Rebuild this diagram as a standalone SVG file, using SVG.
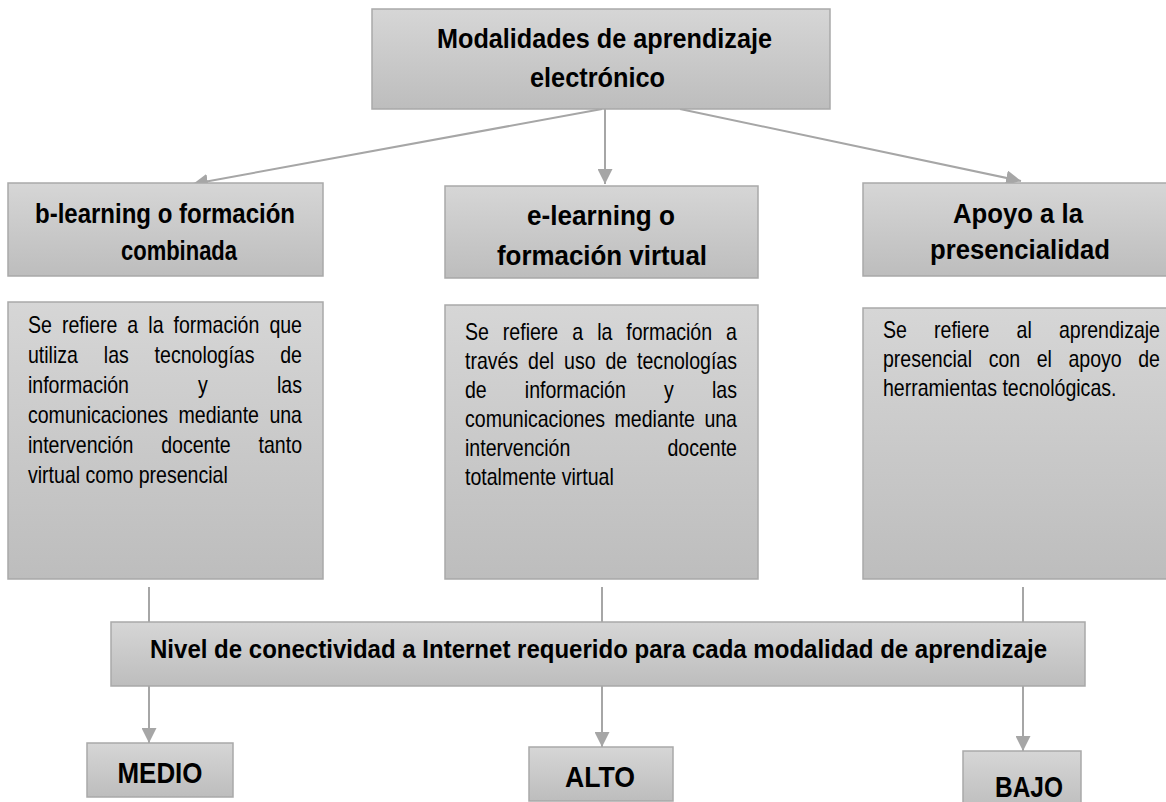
<svg xmlns="http://www.w3.org/2000/svg" width="1166" height="802" viewBox="0 0 1166 802">
<defs>
<linearGradient id="g" x1="0" y1="0" x2="0" y2="1">
<stop offset="0" stop-color="#d6d6d6"/>
<stop offset="1" stop-color="#bdbdbd"/>
</linearGradient>
<marker id="ah" markerUnits="userSpaceOnUse" viewBox="0 0 15 15" refX="15" refY="7.5" markerWidth="15" markerHeight="15" orient="auto">
<path d="M0,0 L15,7.5 L0,15 z" fill="#a6a6a6"/>
</marker>
<style>
.box{fill:url(#g);stroke:#a9a9a9;stroke-width:1.5}
.h{font-family:"Liberation Sans",Arial,sans-serif;font-weight:bold;fill:#000}
.d{font-family:"Liberation Sans",Arial,sans-serif;font-size:23px;fill:#000}
.c{stroke:#a6a6a6;stroke-width:2;fill:none}
.m{text-anchor:middle}
.e{text-anchor:end}
.s{text-anchor:start}
</style>
</defs>

<g id="connectors">
<line class="c" x1="602" y1="109" x2="193" y2="184" marker-end="url(#ah)"/>
<line class="c" x1="605" y1="109" x2="605" y2="184" marker-end="url(#ah)"/>
<line class="c" x1="680" y1="109" x2="1021" y2="181" marker-end="url(#ah)"/>
<line class="c" x1="149" y1="587" x2="149" y2="622"/>
<line class="c" x1="602" y1="587" x2="602" y2="622"/>
<line class="c" x1="1023" y1="587" x2="1023" y2="622"/>
<line class="c" x1="149" y1="686" x2="149" y2="743" marker-end="url(#ah)"/>
<line class="c" x1="602" y1="686" x2="602" y2="747" marker-end="url(#ah)"/>
<line class="c" x1="1023" y1="686" x2="1023" y2="751" marker-end="url(#ah)"/>
</g>

<g id="n-top">
<rect class="box" x="372" y="9" width="458" height="100"/>
<text class="h m" font-size="28" x="604.5" y="48" textLength="335" lengthAdjust="spacingAndGlyphs">Modalidades de aprendizaje</text>
<text class="h m" font-size="28" x="597.5" y="87" textLength="135" lengthAdjust="spacingAndGlyphs">electrónico</text>
</g>

<g id="n-blearning">
<rect class="box" x="8" y="183" width="315" height="93"/>
<text class="h m" font-size="28" x="165" y="223" textLength="260" lengthAdjust="spacingAndGlyphs">b-learning o formación</text>
<text class="h m" font-size="28" x="179" y="260" textLength="116" lengthAdjust="spacingAndGlyphs">combinada</text>
</g>

<g id="n-elearning">
<rect class="box" x="445" y="186" width="313" height="92"/>
<text class="h m" font-size="28" x="601" y="225" textLength="148" lengthAdjust="spacingAndGlyphs">e-learning o</text>
<text class="h m" font-size="28" x="602" y="265" textLength="210" lengthAdjust="spacingAndGlyphs">formación virtual</text>
</g>

<g id="n-apoyo">
<rect class="box" x="863" y="183" width="310" height="93"/>
<text class="h m" font-size="28" x="1018" y="223" textLength="130" lengthAdjust="spacingAndGlyphs">Apoyo a la</text>
<text class="h m" font-size="28" x="1020" y="259" textLength="180" lengthAdjust="spacingAndGlyphs">presencialidad</text>
</g>

<g id="n-desc1">
<rect class="box" x="8" y="302" width="315" height="277"/>
<g transform="scale(0.85 1)">
<text class="d" y="333"><tspan x="32.94">Se</tspan> <tspan x="72.87">refiere</tspan> <tspan x="149.86">a</tspan> <tspan x="174.49">la</tspan> <tspan x="204.19">formación</tspan> <tspan class="e" x="355.29">que</tspan></text>
<text class="d" y="363"><tspan x="32.94">utiliza</tspan> <tspan x="122.12">las</tspan> <tspan x="181.88">tecnologías</tspan> <tspan class="e" x="355.29">de</tspan></text>
<text class="d" y="393"><tspan x="32.94">información</tspan> <tspan x="233.06">y</tspan> <tspan class="e" x="355.29">las</tspan></text>
<text class="d" y="423"><tspan x="32.94">comunicaciones</tspan> <tspan x="210.12">mediante</tspan> <tspan class="e" x="355.29">una</tspan></text>
<text class="d" y="453"><tspan x="32.94">intervención</tspan> <tspan x="189.65">docente</tspan> <tspan class="e" x="355.29">tanto</tspan></text>
<text class="d" x="32.94" y="483">virtual como presencial</text>
</g>
</g>

<g id="n-desc2">
<rect class="box" x="445" y="305" width="313" height="274"/>
<g transform="scale(0.85 1)">
<text class="d" y="340"><tspan x="547.06">Se</tspan> <tspan x="591.62">refiere</tspan> <tspan x="673.25">a</tspan> <tspan x="702.52">la</tspan> <tspan x="736.85">formación</tspan> <tspan class="e" x="867.06">a</tspan></text>
<text class="d" y="369"><tspan x="547.06">través</tspan> <tspan x="621.27">del</tspan> <tspan x="663.59">uso</tspan> <tspan x="712.27">de</tspan> <tspan class="e" x="867.06">tecnologías</tspan></text>
<text class="d" y="398"><tspan x="547.06">de</tspan> <tspan x="617.49">información</tspan> <tspan x="781.22">y</tspan> <tspan class="e" x="867.06">las</tspan></text>
<text class="d" y="427"><tspan x="547.06">comunicaciones</tspan> <tspan x="723.06">mediante</tspan> <tspan class="e" x="867.06">una</tspan></text>
<text class="d" y="456"><tspan x="547.06">intervención</tspan> <tspan class="e" x="867.06">docente</tspan></text>
<text class="d" x="547.06" y="485">totalmente virtual</text>
</g>
</g>

<g id="n-desc3">
<rect class="box" x="863" y="308" width="310" height="271"/>
<g transform="scale(0.85 1)">
<text class="d" y="338"><tspan x="1038.82">Se</tspan> <tspan x="1098.86">refiere</tspan> <tspan x="1195.95">al</tspan> <tspan class="e" x="1364.71">aprendizaje</tspan></text>
<text class="d" y="367"><tspan x="1038.82">presencial</tspan> <tspan x="1163.12">con</tspan> <tspan x="1219.65">el</tspan> <tspan x="1257.0">apoyo</tspan> <tspan class="e" x="1364.71">de</tspan></text>
<text class="d" x="1038.82" y="396">herramientas tecnológicas.</text>
</g>
</g>

<g id="n-nivel">
<rect class="box" x="111" y="622" width="974" height="64"/>
<text class="h" font-size="25" x="150" y="658" textLength="897" lengthAdjust="spacingAndGlyphs">Nivel de conectividad a Internet requerido para cada modalidad de aprendizaje</text>
</g>

<g id="n-medio">
<rect class="box" x="87" y="743" width="146" height="54"/>
<text class="h m" font-size="30" x="160" y="783" textLength="85" lengthAdjust="spacingAndGlyphs">MEDIO</text>
</g>

<g id="n-alto">
<rect class="box" x="529" y="747" width="144" height="54"/>
<text class="h m" font-size="30" x="600" y="787" textLength="70" lengthAdjust="spacingAndGlyphs">ALTO</text>
</g>

<g id="n-bajo">
<rect class="box" x="963" y="751" width="118" height="60"/>
<text class="h m" font-size="30" x="1029" y="797" textLength="68" lengthAdjust="spacingAndGlyphs">BAJO</text>
</g>
</svg>
